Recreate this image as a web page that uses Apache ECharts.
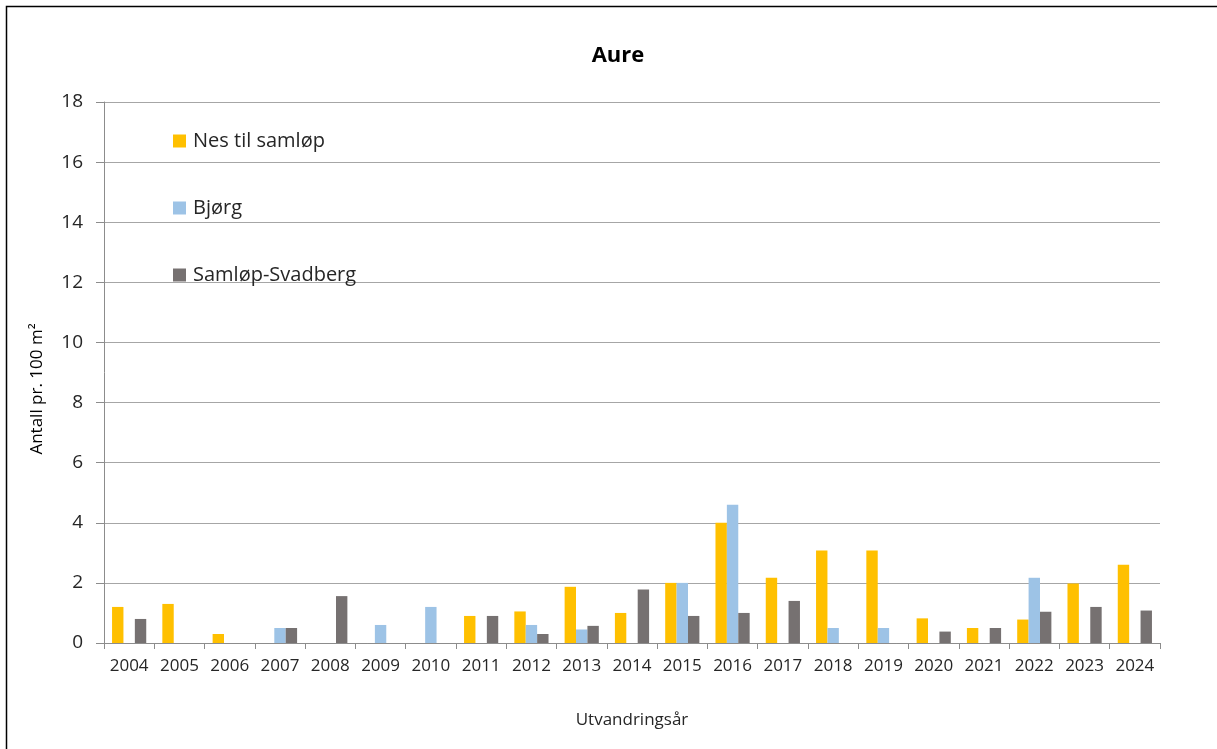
<!DOCTYPE html>
<html>
<head>
<meta charset="utf-8">
<script src="https://cdn.jsdelivr.net/npm/echarts@6/dist/echarts.min.js"></script>
<style>
  html, body { margin: 0; padding: 0; background: #ffffff; }
  #chart { width: 1217px; height: 749px; }
</style>
</head>
<body>
<div id="chart"></div>
<script>
// Utvandringsår (år for utvandring)
const years = ['2004','2005','2006','2007','2008','2009','2010','2011','2012','2013','2014',
               '2015','2016','2017','2018','2019','2020','2021','2022','2023','2024'];

// Tetthet av aure, antall pr. 100 m² (null = ingen verdi)
const nesTilSamlop = [1.2, 1.3, 0.3, null, null, null, null, 0.9, 1.05, 1.87, 1.0,
                      2.0, 4.0, 2.17, 3.08, 3.08, 0.82, 0.5, 0.78, 1.98, 2.6];
const bjorg        = [null, null, null, 0.5, null, 0.6, 1.2, null, 0.6, 0.45, null,
                      2.0, 4.6, null, 0.5, 0.5, null, null, 2.17, null, null];
const samlopSvadberg = [0.8, null, null, 0.5, 1.56, null, null, 0.9, 0.3, 0.57, 1.78,
                        0.9, 1.0, 1.4, null, null, 0.38, 0.5, 1.04, 1.2, 1.08];

const yTicks = { min: 0, max: 18, interval: 2 };

const FONT = '"Open Sans", "Noto Sans", sans-serif';
const TEXT = '#262626';

const chart = echarts.init(document.getElementById('chart'), null, { renderer: 'canvas' });

const barSeries = (name, data, color) => ({
  name,
  type: 'bar',
  data,
  barGap: '0%',
  barCategoryGap: '32%',
  itemStyle: { color },
  emphasis: { disabled: true }
});

chart.setOption({
  animation: false,
  backgroundColor: '#ffffff',
  textStyle: { fontFamily: FONT },
  title: {
    text: 'Aure',
    left: 613,
    top: 40,
    textAlign: 'center',
    textStyle: { fontFamily: FONT, fontSize: 22, fontWeight: 'bold', color: '#000000' }
  },
  legend: {
    orient: 'vertical',
    left: 173,
    top: 130,
    padding: 0,
    itemGap: 45,
    itemWidth: 13,
    itemHeight: 13,
    icon: 'rect',
    textStyle: { fontFamily: FONT, fontSize: 20, color: TEXT, padding: [0, 0, 0, 2], lineHeight: 22 },
    data: ['Nes til samløp', 'Bjørg', 'Samløp-Svadberg']
  },
  grid: { left: 104, right: 57, top: 102, bottom: 106, containLabel: false },
  xAxis: {
    type: 'category',
    data: years,
    boundaryGap: true,
    name: 'Utvandringsår',
    nameLocation: 'middle',
    nameGap: 69,
    nameTextStyle: { fontFamily: FONT, fontSize: 17, color: TEXT },
    axisLine: { show: true, lineStyle: { color: '#8c8c8c', width: 1 } },
    axisTick: { show: true, alignWithLabel: false, length: 6, lineStyle: { color: '#8c8c8c' } },
    axisLabel: { fontFamily: FONT, fontSize: 17, color: TEXT, margin: 15, interval: 0 },
    splitLine: { show: false }
  },
  yAxis: {
    type: 'value',
    min: yTicks.min,
    max: yTicks.max,
    interval: yTicks.interval,
    axisLine: { show: true, lineStyle: { color: '#8c8c8c', width: 1 } },
    axisTick: { show: true, inside: false, length: 8, lineStyle: { color: '#8c8c8c' } },
    axisLabel: { fontFamily: FONT, fontSize: 19, color: TEXT, margin: 21 },
    splitLine: { show: true, lineStyle: { color: '#a6a6a6', width: 1 } }
  },
  graphic: [
    {
      type: 'rect',
      silent: true,
      shape: { x: 6.5, y: 6.5, width: 1260, height: 800 },
      style: { fill: null, stroke: '#000000', lineWidth: 1.5 }
    },
    {
      type: 'text',
      silent: true,
      x: 37,
      y: 389,
      rotation: Math.PI / 2,
      style: {
        text: 'Antall pr. 100 m²',
        fontFamily: FONT,
        fontSize: 17,
        fill: '#000000',
        align: 'center',
        verticalAlign: 'middle'
      }
    }
  ],
  series: [
    barSeries('Nes til samløp', nesTilSamlop, '#FFC000'),
    barSeries('Bjørg', bjorg, '#9DC3E6'),
    barSeries('Samløp-Svadberg', samlopSvadberg, '#767171')
  ]
});
</script>
</body>
</html>
